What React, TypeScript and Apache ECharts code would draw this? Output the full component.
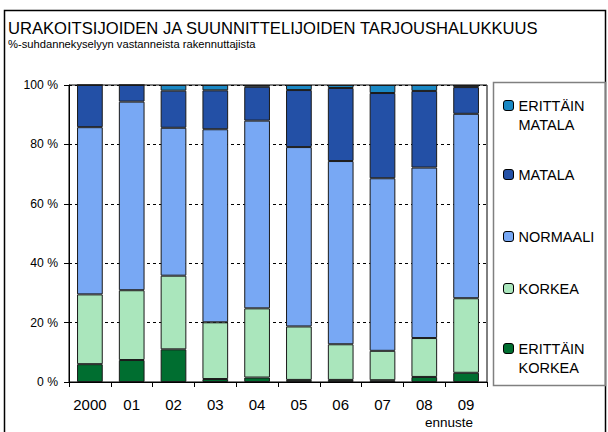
import React, { useEffect, useRef } from 'react';
import * as echarts from 'echarts';

const categories = ['2000', '01', '02', '03', '04', '05', '06', '07', '08', '09'];
const erittainKorkea = [6.0, 7.4, 11.0, 1.0, 1.5, 0.7, 0.7, 0.6, 1.7, 3.1];
const korkea = [23.5, 23.5, 24.8, 19.1, 23.3, 18.0, 12.0, 9.9, 13.1, 25.1];
const normaali = [56.3, 63.5, 49.8, 65.0, 63.2, 60.4, 61.7, 58.1, 57.4, 62.1];
const matala = [14.2, 5.6, 12.5, 13.1, 11.4, 19.2, 24.6, 28.7, 25.8, 9.0];
const erittainMatala = [0, 0, 1.9, 1.8, 0.6, 1.7, 1.0, 2.7, 2.0, 0.7];

const seriesNames = ['ERITTÄIN KORKEA', 'KORKEA', 'NORMAALI', 'MATALA', 'ERITTÄIN MATALA'];
const seriesColors = ['#006e30', '#aae6bc', '#78a8f4', '#2350a6', '#1a88c4'];
const legendLabels: Record<string, string> = {
  'ERITTÄIN MATALA': ' \nERITTÄIN\nMATALA',
  'MATALA': 'MATALA',
  'NORMAALI': 'NORMAALI',
  'KORKEA': 'KORKEA',
  'ERITTÄIN KORKEA': ' \nERITTÄIN\nKORKEA',
};
const legendTops: [string, number][] = [
  ['ERITTÄIN MATALA', 77],
  ['MATALA', 165],
  ['NORMAALI', 227],
  ['KORKEA', 279],
  ['ERITTÄIN KORKEA', 320],
];

const FONT = '"Liberation Sans", Arial, sans-serif';

export default function App() {
  const ref = useRef<HTMLDivElement>(null);
  useEffect(() => {
    if (!ref.current) return;
    const chart = echarts.init(ref.current, undefined, { renderer: 'svg' });
    const data = [erittainKorkea, korkea, normaali, matala, erittainMatala];
    chart.setOption({
      animation: false,
      backgroundColor: '#ffffff',
      title: [
        {
          text: 'URAKOITSIJOIDEN JA SUUNNITTELIJOIDEN TARJOUSHALUKKUUS',
          left: 8,
          top: 20,
          padding: 0,
          textStyle: { fontFamily: FONT, fontSize: 16.6, fontWeight: 'normal', color: '#000' },
        },
        {
          text: '%-suhdannekyselyyn vastanneista rakennuttajista',
          left: 8,
          top: 38.5,
          padding: 0,
          textStyle: { fontFamily: FONT, fontSize: 11.2, fontWeight: 'normal', color: '#000' },
        },
      ],
      legend: legendTops.map(([name, top]) => ({
        data: [name],
        left: 503,
        top,
        padding: 0,
        orient: 'vertical',
        itemWidth: 10,
        itemHeight: 10,
        selectedMode: false,
        formatter: (n: string) => legendLabels[n],
        textStyle: { fontFamily: FONT, fontSize: 14.5, color: '#000', lineHeight: 19 },
        itemStyle: { borderColor: '#000', borderWidth: 1 },
      })),
      grid: {
        left: 69,
        top: 85,
        right: 121,
        bottom: 50,
        show: true,
        borderColor: '#000',
        borderWidth: 1,
        backgroundColor: 'transparent',
      },
      xAxis: {
        type: 'category',
        data: categories,
        axisLine: { lineStyle: { color: '#000', width: 1 } },
        axisTick: { show: true, length: 5, lineStyle: { color: '#000' } },
        axisLabel: { fontFamily: FONT, fontSize: 15, color: '#000', margin: 15, interval: 0 },
      },
      yAxis: {
        type: 'value',
        min: 0,
        max: 100,
        interval: 20,
        axisLine: { show: true, lineStyle: { color: '#000', width: 1 } },
        axisTick: { show: true, length: 5, lineStyle: { color: '#000' } },
        axisLabel: { fontFamily: FONT, fontSize: 12.2, color: '#000', margin: 11, formatter: '{value} %' },
        splitLine: { show: true, lineStyle: { color: '#000', type: [3, 3], width: 1 } },
      },
      series: seriesNames.map((name, i) => ({
        name,
        type: 'bar',
        stack: 'total',
        barCategoryGap: '38.5%',
        data: data[i],
        itemStyle: { color: seriesColors[i], borderColor: '#1a1a1a', borderWidth: 1 },
        emphasis: { disabled: true },
      })),
      graphic: [
        {
          type: 'rect',
          shape: { x: 4.5, y: 10.5, width: 601, height: 440 },
          style: { fill: 'transparent', stroke: '#000', lineWidth: 1.5 },
          silent: true,
          z: -1,
        },
        {
          type: 'rect',
          shape: { x: 493.5, y: 82.5, width: 112, height: 303 },
          style: { fill: 'transparent', stroke: '#808080', lineWidth: 1.5 },
          silent: true,
          z: -1,
        },
        {
          type: 'text',
          x: 449,
          y: 422,
          style: {
            text: 'ennuste',
            fontFamily: FONT,
            fontSize: 13.5,
            fill: '#000',
            textAlign: 'center',
            textVerticalAlign: 'middle',
          },
          silent: true,
        },
      ],
    });
    return () => chart.dispose();
  }, []);
  return <div ref={ref} style={{ position: 'fixed', left: 0, top: 0, width: 608, height: 432 }} />;
}
